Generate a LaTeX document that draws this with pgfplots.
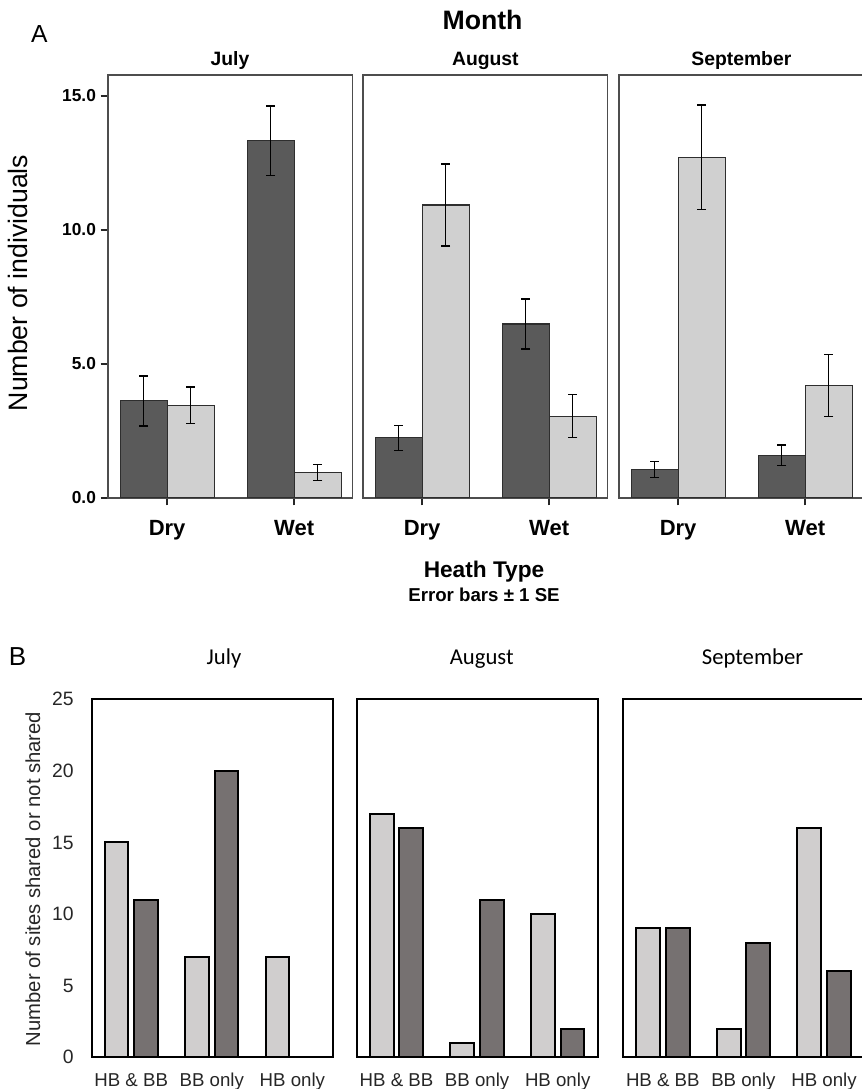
\documentclass[border=0pt]{standalone}
\usepackage{pgfplots}
\pgfplotsset{compat=1.18}
\usepackage{pgfplotstable}
\usepackage{fontspec}
\setmainfont{Liberation Sans}
\newfontfamily\carlito{Carlito}
\definecolor{adark}{HTML}{5A5A5A}
\definecolor{alight}{HTML}{D0D0D0}
\definecolor{aedge}{HTML}{2E2E2E}
\definecolor{abox}{HTML}{4D4D4D}
\definecolor{bdark}{HTML}{767171}
\definecolor{blight}{HTML}{D0CECE}

% Panel A: mean and SE (dark, light)
\pgfplotstableread{
x dark darkse light lightse
0 3.62 0.93 3.46 0.68
1 13.33 1.29 0.96 0.30
}\julA
\pgfplotstableread{
x dark darkse light lightse
0 2.24 0.46 10.93 1.53
1 6.49 0.93 3.05 0.80
}\augA
\pgfplotstableread{
x dark darkse light lightse
0 1.06 0.29 12.71 1.95
1 1.59 0.39 4.19 1.16
}\sepA
% Panel B: light, dark
\pgfplotstableread{
x light dark
0 15 11
1 7 20
2 7 0
}\julB
\pgfplotstableread{
x light dark
0 17 16
1 1 11
2 10 2
}\augB
\pgfplotstableread{
x light dark
0 9 9
1 2 8
2 16 6
}\sepB

\pgfplotsset{
 panelA/.style={
   scale only axis, width=183.5pt, height=317.25pt,
   anchor=south west,
   xmin=-0.465, xmax=1.46, ymin=0, ymax=15.78,
   axis line style={abox, line width=1.1pt},
   xtick={0,1}, xticklabels={Dry,Wet},
   xtick pos=bottom, ytick pos=left, tick align=outside,
   major tick length=5.5pt,
   tick style={black!85, line width=1.1pt},
   xticklabel style={font=\fontsize{16.5}{18}\selectfont\bfseries, anchor=base, yshift=-23pt},
   yticklabel style={font=\fontsize{13}{15}\selectfont\bfseries},
   ytick=\empty,
 },
 barA/.style={ybar, bar width=0.37, bar shift=0pt, draw=aedge, line width=0.8pt,
   error bars/.cd, y dir=both, y explicit, error bar style={black, line width=1pt},
   error mark options={black, line width=1pt, mark size=3.4pt, rotate=90}},
 panelB/.style={
   scale only axis, width=180.75pt, height=268.5pt,
   anchor=south west,
   xmin=-0.49, xmax=2.5, ymin=0, ymax=25,
   axis line style={black, line width=1.5pt},
   xtick={0,1,2}, xticklabels={HB \& BB, BB only, HB only},
   major tick length=0pt,
   xticklabel style={font=\fontsize{14}{16}\selectfont, anchor=base, yshift=-22pt, text=black!85},
   yticklabel style={font=\fontsize{14.5}{16}\selectfont, text=black!85, /pgf/number format/assume math mode=true},
   ytick=\empty,
 },
 lightB/.style={ybar, bar width=17.8pt, bar shift=-11.1pt, fill=blight, draw=black, line width=1.5pt},
 darkB/.style={ybar, bar width=17.8pt, bar shift=11.1pt, fill=bdark, draw=black, line width=1.5pt},
}

\begin{document}
\begin{tikzpicture}
\useasboundingbox (0,0) rectangle (645.75pt,816.75pt);

% ---------- Panel A ----------
\node[font=\fontsize{18.5}{20}\selectfont] at (29.6pt,791.6pt) {A};
\node[font=\fontsize{20}{22}\selectfont\bfseries] at (361.9pt,801.75pt) {Month};
\node[font=\fontsize{14.5}{16}\selectfont\bfseries] at (172.5pt,771pt) {July};
\node[font=\fontsize{14.5}{16}\selectfont\bfseries] at (364pt,771pt) {August};
\node[font=\fontsize{14.5}{16}\selectfont\bfseries] at (556pt,771pt) {September};
\node[rotate=90, font=\fontsize{20}{22}\selectfont] at (13.5pt,604.5pt) {Number of individuals};
\node[anchor=base, font=\fontsize{17}{19}\selectfont\bfseries] at (363pt,383.25pt) {Heath Type};
\node[anchor=base, font=\fontsize{14}{16}\selectfont\bfseries] at (363pt,365.25pt) {Error bars ± 1 SE};

\begin{axis}[panelA, at={(81pt,443.25pt)},
  ytick={0,5,10,15}, yticklabels={0.0,5.0,10.0,15.0}]
\addplot[fill=adark, barA] table[x expr=\thisrow{x}-0.185, y=dark, y error=darkse] {\julA};
\addplot[fill=alight, barA] table[x expr=\thisrow{x}+0.185, y=light, y error=lightse] {\julA};
\end{axis}
\begin{axis}[panelA, at={(272.25pt,443.25pt)}]
\addplot[fill=adark, barA] table[x expr=\thisrow{x}-0.185, y=dark, y error=darkse] {\augA};
\addplot[fill=alight, barA] table[x expr=\thisrow{x}+0.185, y=light, y error=lightse] {\augA};
\end{axis}
\begin{axis}[panelA, at={(464.25pt,443.25pt)}]
\addplot[fill=adark, barA] table[x expr=\thisrow{x}-0.185, y=dark, y error=darkse] {\sepA};
\addplot[fill=alight, barA] table[x expr=\thisrow{x}+0.185, y=light, y error=lightse] {\sepA};
\end{axis}

% ---------- Panel B ----------
\node[font=\fontsize{19.5}{22}\selectfont] at (13.1pt,324pt) {B};
\node[anchor=base, font=\carlito\fontsize{17}{19}\selectfont] at (168pt,318pt) {July};
\node[anchor=base, font=\carlito\fontsize{17}{19}\selectfont] at (361.3pt,318pt) {August};
\node[anchor=base, font=\carlito\fontsize{17}{19}\selectfont] at (564.4pt,318pt) {September};
\node[rotate=90, font=\fontsize{15.2}{17}\selectfont, text=black!85] at (24.75pt,157.5pt) {Number of sites shared or not shared};

\begin{axis}[panelB, at={(68.775pt,23.775pt)},
  ytick={0,5,10,15,20,25},
  yticklabel style={anchor=east, inner sep=0pt, xshift=-13.3pt}]
\addplot[lightB] table[x=x, y=light] {\julB};
\addplot[darkB] table[x=x, y=dark] {\julB};
\end{axis}
\begin{axis}[panelB, at={(267.75pt,23.775pt)}]
\addplot[lightB] table[x=x, y=light] {\augB};
\addplot[darkB] table[x=x, y=dark] {\augB};
\end{axis}
\begin{axis}[panelB, at={(467.5pt,23.775pt)}]
\addplot[lightB] table[x=x, y=light] {\sepB};
\addplot[darkB] table[x=x, y=dark] {\sepB};
\end{axis}
\end{tikzpicture}
\end{document}
